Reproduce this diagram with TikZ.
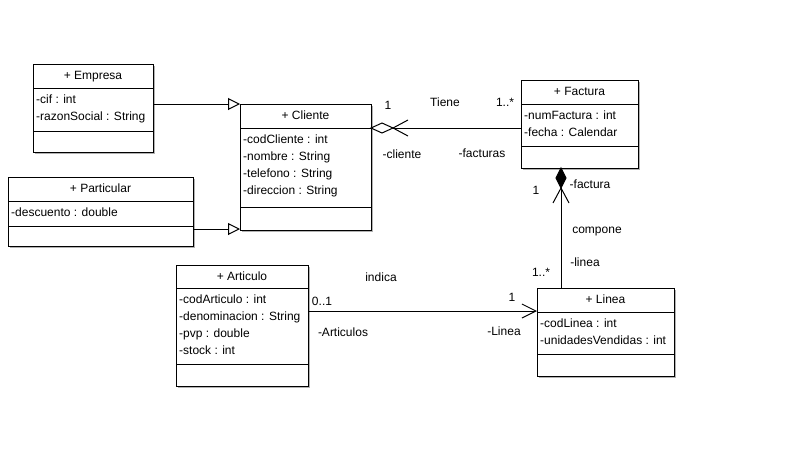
\documentclass[tikz,border=0pt]{standalone}
\usepackage{fontspec}
\setmainfont{Liberation Sans}
\usetikzlibrary{calc,arrows.meta}
\tikzset{
  classbox/.style={draw, fill=white, line width=1pt, inner sep=0pt, outer sep=0pt, anchor=north west},
  shadowc/.style={fill=black!30},
  ttl/.style={anchor=base, inner sep=0pt, font=\fontsize{12}{14}\selectfont},
  attr/.style={anchor=base west, inner sep=0pt, font=\fontsize{12}{14}\selectfont},
  lbl/.style={inner sep=0pt, font=\fontsize{12}{14}\selectfont},
  conn/.style={line width=1pt},
  gen/.style={conn, -{Triangle[open, length=12pt, width=12pt, line width=1pt]}},
  nav/.style={conn, -{Straight Barb[length=14pt, width=14pt, line width=1pt]}},
}
\newcommand\umlclass[8]{% name, x, y, right, div1, div2, bottom, title
  \fill[shadowc] (#2+2,#3+2) rectangle (#4+2,#7+2);
  \node[classbox, minimum width={(#4-#2)*1pt}, minimum height={(#7-#3)*1pt}] (#1) at (#2,#3) {};
  \draw[conn] (#2,#5) -- (#4,#5);
  \draw[conn] (#2,#6) -- (#4,#6);
  \node[ttl] (#1-t) at ({(#2+#4)/2},#3+15) {#8};
}
\begin{document}
\begin{tikzpicture}[x=1pt,y=-1pt]
\useasboundingbox[fill=white] (0,0) rectangle (794,450);

% classes
\umlclass{emp}{33}{64}{153}{88}{131}{152}{+ Empresa}
\node[attr] (emp-a1) at (36,103) {-cif : int};
\node[attr] (emp-a2) at (36,120) {-razonSocial : String};

\umlclass{cli}{240}{104}{371}{128}{207}{230}{+ Cliente}
\node[attr] (cli-a1) at (243,143) {-codCliente : int};
\node[attr] (cli-a2) at (243,160) {-nombre : String};
\node[attr] (cli-a3) at (243,177) {-telefono : String};
\node[attr] (cli-a4) at (243,194) {-direccion : String};

\umlclass{par}{8}{177}{193}{201}{226}{246}{+ Particular}
\node[attr] (par-a1) at (11,216) {-descuento : double};

\umlclass{fac}{521}{80}{638}{104}{146}{168}{+ Factura}
\node[attr] (fac-a1) at (524,119) {-numFactura : int};
\node[attr] (fac-a2) at (524,136) {-fecha : Calendar};

\umlclass{art}{176}{265}{308}{288}{364}{386}{+ Articulo}
\node[attr] (art-a1) at (179,303) {-codArticulo : int};
\node[attr] (art-a2) at (179,320) {-denominacion : String};
\node[attr] (art-a3) at (179,337) {-pvp : double};
\node[attr] (art-a4) at (179,354) {-stock : int};

\umlclass{lin}{537}{288}{674}{312}{354}{376}{+ Linea}
\node[attr] (lin-a1) at (540,327) {-codLinea : int};
\node[attr] (lin-a2) at (540,344) {-unidadesVendidas : int};

% generalizations
\draw[gen] (emp.east |- cli.north west) -- (cli.north west);
\draw[gen] ($(par.east |- cli.south west)+(0,-1)$) -- ($(cli.south west)+(0,-1)$);

% aggregation Cliente <>-- Factura
\coordinate (agC) at ($(cli.north east)+(0,24)$);
\draw[conn] (fac.west |- agC) -- ($(agC)+(22,0)$);
\draw[conn, fill=white] (agC) -- ++(11,-5) -- ++(11,5) -- ++(-11,5) -- cycle;
\draw[conn] ($(agC)+(37,-8)$) -- ($(agC)+(22,0)$) -- ($(agC)+(37,8)$);

% composition Factura <#>-- Linea
\coordinate (coT) at ($(fac.south west)+(40,0)$);
\draw[conn] ($(coT)+(0,20)$) -- (coT |- lin.north);
\draw[conn, fill=black] (coT) -- ++(5,10) -- ++(-5,10) -- ++(-5,-10) -- cycle;
\draw[conn] ($(coT)+(-8,35)$) -- ($(coT)+(0,20)$) -- ($(coT)+(8,35)$);

% association Articulo --> Linea
\coordinate (asE) at ($(lin.north west)+(0,23)$);
\draw[nav] (art.east |- asE) -- (asE);

% labels
\node[lbl] (l1) at (388,105) {1};
\node[lbl] (l2) at (445,102) {Tiene};
\node[lbl] (l3) at (505,102) {1..*};
\node[lbl] (l4) at (402,154) {-cliente};
\node[lbl] (l5) at (482,153) {-facturas};
\node[lbl] (l6) at (536,190) {1};
\node[lbl] (l7) at (590,184) {-factura};
\node[lbl] (l8) at (597,232) {compone};
\node[lbl] (l9) at (585,262) {-linea};
\node[lbl] (l10) at (541,272) {1..*};
\node[lbl] (l11) at (381,277) {indica};
\node[lbl] (l12) at (322,301) {0..1};
\node[lbl] (l13) at (512,297) {1};
\node[lbl] (l14) at (343,332) {-Articulos};
\node[lbl] (l15) at (504,331) {-Linea};
\end{tikzpicture}
\end{document}
